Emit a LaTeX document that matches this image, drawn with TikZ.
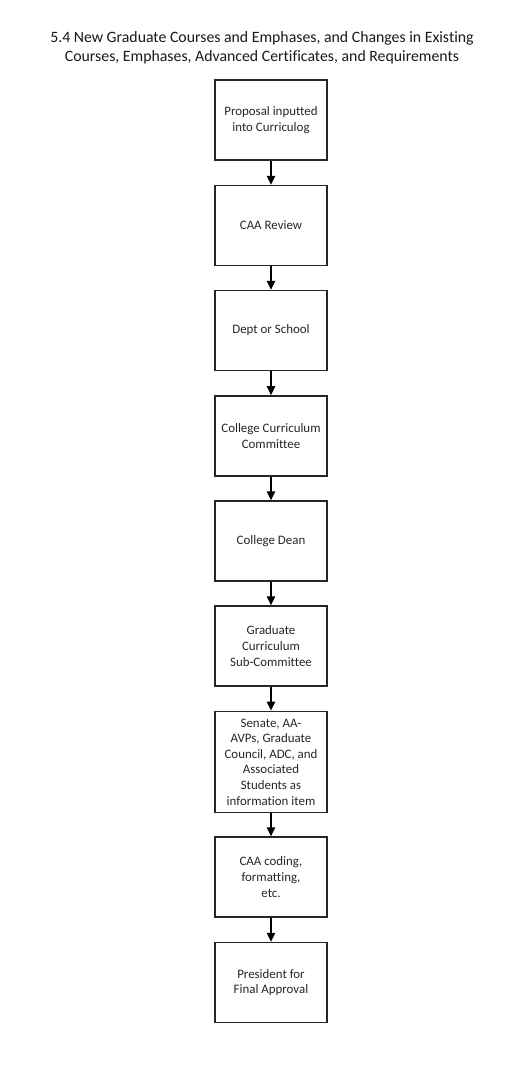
\documentclass[tikz,border=0pt]{standalone}
\usepackage{fontspec}
\setmainfont{Carlito}[Ligatures=NoCommon]
\usetikzlibrary{arrows.meta}
\begin{document}
\begin{tikzpicture}[x=1pt,y=-1pt,
  stepbox/.style={draw=black!85,line width=1.4pt,minimum width=112pt,inner sep=2pt,
    align=center,font=\fontsize{12.9}{15.6}\selectfont,text=black!85},
  flow/.style={draw=black,line width=1.3pt,-{Triangle[length=9pt,width=8.5pt]}}]
\useasboundingbox (0,0) rectangle (517,1065);
\node[font=\fontsize{15.8}{19.2}\selectfont,align=center,text=black!90] (title) at (262,48)
  {5.4 New Graduate Courses and Emphases, and Changes in Existing\\Courses, Emphases, Advanced Certificates, and Requirements};
\node[stepbox,minimum height=80pt] (b1) at (271,120) {Proposal inputted\\into Curriculog};
\node[stepbox,minimum height=80pt] (b2) at (271,225.5) {CAA Review};
\node[stepbox,minimum height=80pt] (b3) at (271,330.5) {Dept or School};
\node[stepbox,minimum height=80pt] (b4) at (271,435.8) {College Curriculum\\Committee};
\node[stepbox,minimum height=80pt] (b5) at (271,541) {College Dean};
\node[stepbox,minimum height=80pt] (b6) at (271,646) {Graduate\\Curriculum\\Sub-Committee};
\node[stepbox,minimum height=101.5pt] (b7) at (271,762) {Senate, AA-\\AVPs, Graduate\\Council, ADC, and\\Associated\\Students as\\information item};
\node[stepbox,minimum height=80pt] (b8) at (271,877) {CAA coding,\\formatting,\\etc.};
\node[stepbox,minimum height=80pt] (b9) at (271,982.5) {President for\\Final Approval};
\foreach \a/\b in {b1/b2,b2/b3,b3/b4,b4/b5,b5/b6,b6/b7,b7/b8,b8/b9}
  \draw[flow] (\a.south) -- (\b.north);
\end{tikzpicture}
\end{document}
